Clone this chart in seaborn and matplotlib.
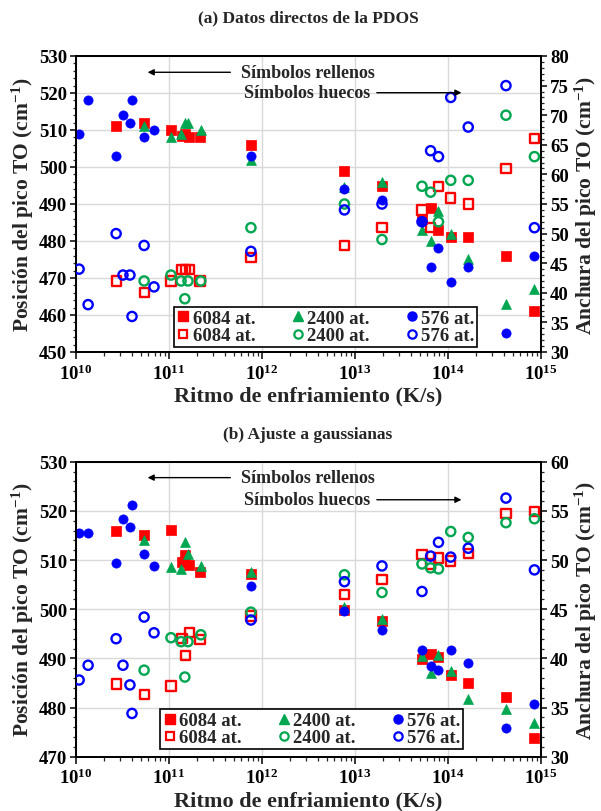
import numpy as np
import pandas as pd
import matplotlib
matplotlib.use("Agg")
import matplotlib.pyplot as plt
from matplotlib.lines import Line2D
from matplotlib.ticker import MultipleLocator, LogLocator, FuncFormatter, NullFormatter
import seaborn as sns

# ---------------- data ----------------
rate_576 = [1.08e10, 1.35e10, 2.7e10, 3.2e10, 3.8e10, 4.0e10, 5.4e10, 6.9e10, 7.6e11,
            7.7e12, 1.95e13, 5.25e13, 6.5e13, 7.9e13, 1.07e14, 1.65e14, 4.2e14, 8.5e14]
rate_6084 = [2.7e10, 5.4e10, 1.05e11, 1.38e11, 1.5e11, 1.65e11, 2.15e11, 7.6e11,
             7.7e12, 1.95e13, 5.25e13, 6.5e13, 7.9e13, 1.07e14, 1.65e14, 4.2e14, 8.5e14]
rate_2400 = [5.4e10, 1.05e11, 1.35e11, 1.48e11, 1.6e11, 2.2e11, 7.6e11,
             7.7e12, 1.95e13, 5.25e13, 6.5e13, 7.9e13, 1.07e14, 1.65e14, 4.2e14, 8.5e14]

# (a) Datos directos de la PDOS
a_pos_6084 = [511, 512, 510, 508.5, 509, 508, 508, 506, 499, 495, 486, 489, 483, 481, 481, 476, 461]
a_wid_6084 = [42, 40, 42, 44, 44, 44, 42, 46, 48, 51, 54, 51, 58, 56, 55, 61, 66]
a_pos_2400 = [511, 508, 509, 512, 512, 510, 502, 494.5, 496, 483, 480, 488, 482, 475, 463, 467]
a_wid_2400 = [42, 43, 42, 39, 42, 42, 51, 55, 49, 58, 57, 52, 59, 59, 70, 63]
a_pos_576 = [509, 518, 503, 514, 512, 518, 508, 510, 503, 494, 491, 485.5, 473, 478, 469, 473, 455, 476]
a_wid_576 = [44, 38, 50, 43, 43, 36, 48, 41, 47, 54, 55, 52, 64, 63, 73, 68, 75, 51]

# (b) Ajuste a gaussianas
b_pos_6084 = [516, 515.1, 516.1, 509.5, 511, 509, 507.6, 507.2, 499.9, 497.7, 489.8, 490.9, 490.3, 486.7, 485, 482.1, 473.8]
b_wid_6084 = [37.4, 36.3, 37.2, 42, 40.3, 42.6, 41.9, 44.3, 46.5, 48, 50.6, 49.6, 50.2, 49.9, 50.7, 54.7, 54.9]
b_pos_2400 = [514.1, 508.5, 508.2, 513.6, 511.2, 508.7, 507.5, 500.4, 498, 490.5, 487, 490.7, 487.4, 481.8, 479.7, 476.9]
b_wid_2400 = [38.8, 42.1, 41.7, 38.1, 41.7, 42.4, 44.7, 48.5, 46.7, 49.6, 49.2, 49.1, 52.9, 52.3, 53.8, 54.2]
b_pos_576 = [515.4, 515.4, 509.4, 518.4, 516.7, 521.2, 511.2, 508.7, 504.8, 499.6, 495.8, 491.8, 488.5, 487.6, 491.6, 489.1, 475.8, 480.8]
b_wid_576 = [37.8, 39.3, 42, 39.3, 37.3, 34.4, 44.2, 42.6, 43.9, 47.8, 49.4, 46.8, 50.4, 51.8, 50.3, 51.2, 56.3, 49]

labels = ["6084 at.", "2400 at.", "576 at."]
titles = ["(a) Datos directos de la PDOS", "(b) Ajuste a gaussianas"]
xlabel = "Ritmo de enfriamiento (K/s)"
ylabel_l = "Posición del pico TO (cm$^{-1}$)"
ylabel_r = "Anchura del pico TO (cm$^{-1}$)"
note_filled = "Símbolos rellenos"
note_hollow = "Símbolos huecos"

# ---------------- style ----------------
sns.set_theme(style="ticks")
plt.rcParams["font.family"] = ["Liberation Serif", "DejaVu Serif"]
plt.rcParams["font.weight"] = "bold"
plt.rcParams["axes.labelweight"] = "bold"
plt.rcParams["mathtext.fontset"] = "custom"
plt.rcParams["mathtext.rm"] = "Liberation Serif:bold"
plt.rcParams["mathtext.bf"] = "Liberation Serif:bold"
plt.rcParams["mathtext.it"] = "Liberation Serif:bold:italic"
plt.rcParams["mathtext.default"] = "bf"

RED = "#FF0000"
GREEN = "#00A650"
BLUE = "#0000FF"
colors = [RED, GREEN, BLUE]
markers_f = ["s", "^", "o"]

fig = plt.figure(figsize=(6.01, 8.12), dpi=100)

W, H = 601, 812
def rect(l, t, r, b):
    return [l / W, 1 - b / H, (r - l) / W, (b - t) / H]

panels = [
    dict(rect=rect(76, 57, 541, 353), ylim=(450, 530), y2lim=(30, 80), y2step=5,
         data=[(rate_6084, a_pos_6084, a_wid_6084), (rate_2400, a_pos_2400, a_wid_2400), (rate_576, a_pos_576, a_wid_576)],
         leg=(0.211, 0.017), title_y=18),
    dict(rect=rect(76, 462.7, 541, 757.7), ylim=(470, 530), y2lim=(30, 60), y2step=5,
         data=[(rate_6084, b_pos_6084, b_wid_6084), (rate_2400, b_pos_2400, b_wid_2400), (rate_576, b_pos_576, b_wid_576)],
         leg=(0.181, 0.026), title_y=435),
]

S = 44
for i, p in enumerate(panels):
    ax = fig.add_axes(p["rect"])
    ax2 = ax.twinx()
    ax.set_xscale("log")
    ax.set_xlim(1e10, 1e15)
    ax.set_ylim(*p["ylim"])
    ax2.set_ylim(*p["y2lim"])

    for (rates, pos, wid), c, m in zip(p["data"], colors, markers_f):
        sns.scatterplot(x=rates, y=pos, ax=ax, marker=m, s=S if m != "^" else S * 1.15,
                        color=c, edgecolor=c, linewidth=0.5, zorder=3)
        hm = "s" if m == "s" else "o"
        sns.scatterplot(x=rates, y=wid, ax=ax2, marker=hm, s=S,
                        facecolor="none", edgecolor=c, linewidth=1.7, zorder=3)

    ax.grid(True, which="major", axis="both", color="#d9d9d9", lw=1.0)
    ax.set_axisbelow(True)
    ax.yaxis.set_major_locator(MultipleLocator(10))
    ax.yaxis.set_minor_locator(MultipleLocator(2))
    ax2.yaxis.set_major_locator(MultipleLocator(p["y2step"]))
    ax2.yaxis.set_minor_locator(MultipleLocator(1))
    ax.xaxis.set_major_locator(LogLocator(base=10, numticks=10))
    ax.xaxis.set_minor_locator(LogLocator(base=10, subs=np.arange(2, 10), numticks=20))
    ax.xaxis.set_major_formatter(FuncFormatter(lambda v, _: "10$^{%d}$" % round(np.log10(v))))
    ax.xaxis.set_minor_formatter(NullFormatter())

    for a in (ax, ax2):
        a.tick_params(axis="both", which="major", direction="out", length=4.5, width=1.1,
                      labelsize=13.5, colors="black", pad=2)
        a.tick_params(axis="both", which="minor", direction="out", length=2.5, width=0.9)
        for s in a.spines.values():
            s.set_linewidth(1.3)
            s.set_color("black")
    ax.tick_params(axis="x", which="major", length=5, labelsize=13.5, pad=3)
    ax.tick_params(axis="x", which="minor", length=3)
    ax.tick_params(right=False, top=False)
    ax2.tick_params(left=False, top=False)

    ax.set_xlabel(xlabel, fontsize=16, fontweight="bold", labelpad=2)
    ax.set_ylabel(ylabel_l, fontsize=15.5, fontweight="bold", labelpad=2)
    ax2.set_ylabel(ylabel_r, fontsize=15.5, fontweight="bold", labelpad=3)
    for t in ax.get_yticklabels() + ax2.get_yticklabels() + ax.get_xticklabels():
        t.set_fontweight("bold")

    fig.text(308 / W, 1 - p["title_y"] / H, titles[i], ha="center", va="center",
             fontsize=12.5, fontweight="bold")

    # annotations
    top_y = 0.945 if i == 0 else 0.946
    bot_y = 0.876 if i == 0 else 0.871
    ax2.annotate("", xy=(0.148, top_y), xytext=(0.338, top_y), xycoords="axes fraction",
                 arrowprops=dict(arrowstyle="-|>", color="black", lw=1.0, mutation_scale=9))
    ax2.text(0.498, top_y, note_filled, transform=ax2.transAxes, ha="center", va="center",
             fontsize=13, fontweight="bold")
    ax2.text(0.632, bot_y, note_hollow, transform=ax2.transAxes, ha="right", va="center",
             fontsize=13, fontweight="bold")
    ax2.annotate("", xy=(0.835, bot_y), xytext=(0.641, bot_y), xycoords="axes fraction",
                 arrowprops=dict(arrowstyle="-|>", color="black", lw=1.0, mutation_scale=9))

    # legend
    handles = []
    for c, m in zip(colors, markers_f):
        hm = "s" if m == "s" else "o"
        handles.append(Line2D([], [], marker=m, color=c, ls="none", markersize=6.5,
                              markerfacecolor=c, markeredgecolor=c))
        handles.append(Line2D([], [], marker=hm, color=c, ls="none", markersize=6.0,
                              markerfacecolor="none", markeredgecolor=c, markeredgewidth=1.6))
    leg_labels = [labels[0], labels[0], labels[1], labels[1], labels[2], labels[2]]
    leg = ax2.legend(handles, leg_labels, ncol=3, loc="lower left", bbox_to_anchor=p["leg"],
                     borderaxespad=0, frameon=True, fancybox=False, edgecolor="black",
                     framealpha=1, handlelength=0.7, handletextpad=0.15,
                     columnspacing=1.9, labelspacing=0.0, borderpad=0.15,
                     prop={"weight": "bold", "size": 13.5})
    leg.get_frame().set_linewidth(1.2)
    leg.set_zorder(10)

fig.savefig("out.png", dpi=100)
